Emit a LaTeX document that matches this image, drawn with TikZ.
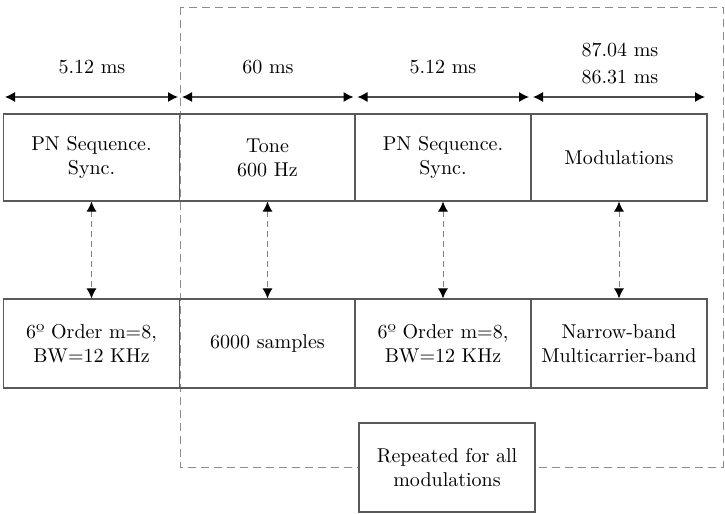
\documentclass[tikz,border=0pt]{standalone}
\usepackage{fontspec}
\usetikzlibrary{arrows.meta}
\tikzset{
  box/.style={draw=black!65, line width=0.6pt, minimum width=88pt, align=center, inner sep=0pt, font=\fontsize{10}{12}\selectfont},
  toprow/.style={box, minimum height=43.5pt},
  botrow/.style={box, minimum height=44.5pt},
  lbl/.style={align=center, font=\fontsize{10}{13.5}\selectfont},
  dimarrow/.style={line width=0.6pt, black!70, {Latex[length=5pt,width=5pt,color=black]}-{Latex[length=5pt,width=5pt,color=black]}},
  linkarrow/.style={line width=0.5pt, draw=black!50, dash pattern=on 3pt off 2pt, {Latex[length=5pt,width=5pt,color=black]}-{Latex[length=5pt,width=5pt,color=black]}},
  frame/.style={draw=black!45, line width=0.5pt, dash pattern=on 4pt off 2.5pt}
}
\begin{document}
\begin{tikzpicture}[x=0.5pt,y=-0.5pt]
\useasboundingbox (0,0) rectangle (725,514);
% dashed frame
\draw[frame] (180,7) rectangle (723,467);
% top row
\node[toprow] (t1) at (91.5,157.5) {PN Sequence.\\Sync.};
\node[toprow] (t2) at (267.5,157.5) {Tone\\600 Hz};
\node[toprow] (t3) at (443,157.5) {PN Sequence.\\Sync.};
\node[toprow] (t4) at (619,157.5) {Modulations};
% bottom row
\node[botrow] (b1) at (91.5,343.5) {6º Order m=8,\\BW=12 KHz};
\node[botrow] (b2) at (267.5,343.5) {6000 samples};
\node[botrow] (b3) at (443,343.5) {6º Order m=8,\\BW=12 KHz};
\node[botrow] (b4) at (619,343.5) {Narrow-band\\Multicarrier-band};
% repeated
\node[botrow, fill=white] (rep) at (447,467.5) {Repeated for all\\modulations};
% dimension coordinates
\coordinate (a0) at (3,97);
\coordinate (a1) at (180,97);
\coordinate (a2) at (355.5,97);
\coordinate (a3) at (531,97);
\coordinate (a4) at (707,97);
\draw[dimarrow, shorten <=1pt, shorten >=1pt] (a0) -- (a1);
\draw[dimarrow, shorten <=1pt, shorten >=1pt] (a1) -- (a2);
\draw[dimarrow, shorten <=1pt, shorten >=1pt] (a2) -- (a3);
\draw[dimarrow, shorten <=1pt, shorten >=1pt] (a3) -- (a4);
% labels
\node[lbl] (l1) at (92,67) {5.12 ms};
\node[lbl] (l2) at (268,67) {60 ms};
\node[lbl] (l3) at (443,67) {5.12 ms};
\node[lbl] (l4) at (620,63) {87.04 ms\\86.31 ms};
% vertical links
\draw[linkarrow] (t1.south) -- (b1.north);
\draw[linkarrow] (t2.south) -- (b2.north);
\draw[linkarrow] (t3.south) -- (b3.north);
\draw[linkarrow] (t4.south) -- (b4.north);
\end{tikzpicture}
\end{document}
